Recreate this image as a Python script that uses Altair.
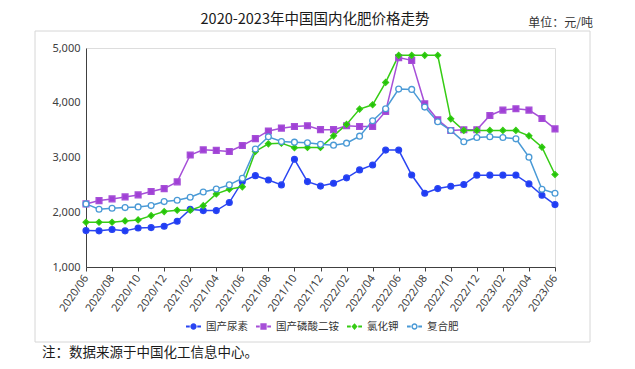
import altair as alt
import pandas as pd

months = ["2020/06","2020/07","2020/08","2020/09","2020/10","2020/11","2020/12",
          "2021/01","2021/02","2021/03","2021/04","2021/05","2021/06","2021/07",
          "2021/08","2021/09","2021/10","2021/11","2021/12","2022/01","2022/02",
          "2022/03","2022/04","2022/05","2022/06","2022/07","2022/08","2022/09",
          "2022/10","2022/11","2022/12","2023/01","2023/02","2023/03","2023/04",
          "2023/05","2023/06"]
tick_months = ["2020/06","2020/08","2020/10","2020/12","2021/02","2021/04","2021/06",
               "2021/08","2021/10","2021/12","2022/02","2022/04","2022/06","2022/08",
               "2022/10","2022/12","2023/02","2023/04","2023/06"]

series_names = ["国产尿素", "国产磷酸二铵", "氯化钾", "复合肥"]

urea = [1665,1660,1685,1660,1713,1720,1745,1835,2055,2030,2030,2177,2562,2668,2590,2500,
        2968,2560,2478,2530,2628,2773,2864,3135,3135,2680,2347,2432,2475,2506,2677,2677,
        2677,2677,2518,2311,2140]
dap = [2152,2213,2244,2280,2317,2378,2432,2555,3045,3140,3130,3110,3220,3345,3485,3536,
       3566,3580,3508,3508,3580,3566,3566,3841,4825,4774,3981,3689,3494,3506,3506,3768,
       3866,3890,3866,3713,3524]
potash = [1817,1817,1817,1841,1860,1939,2012,2037,2037,2120,2335,2420,2465,3110,3250,3262,
          3180,3183,3183,3395,3605,3884,3963,4372,4866,4866,4866,4866,3707,3494,3494,3494,
          3494,3494,3396,3189,2689]
compound = [2152,2055,2073,2085,2097,2122,2195,2219,2274,2370,2425,2500,2622,3155,3378,3293,
            3280,3270,3240,3225,3262,3390,3671,3890,4250,4244,3921,3652,3494,3287,3366,3378,
            3366,3341,3006,2421,2347]

colors = ["#2a45f2", "#a64fd8", "#36cc14", "#4a9ad6"]
point_fills = ["#1f3cf5", "#a040d6", "#22c20a", "#ffffff"]
point_shapes = ["circle", "square", "diamond", "circle"]
legend_shapes = [
    "M-1,-0.13H-0.5V0.13H-1Z M0.5,-0.13H1V0.13H0.5Z M0.42,0A0.42,0.42 0 1,1 -0.42,0A0.42,0.42 0 1,1 0.42,0Z",
    "M-1,-0.13H-0.5V0.13H-1Z M0.5,-0.13H1V0.13H0.5Z M-0.42,-0.42H0.42V0.42H-0.42Z",
    "M-1,-0.13H-0.5V0.13H-1Z M0.5,-0.13H1V0.13H0.5Z M0,-0.45L0.4,0L0,0.45L-0.4,0Z",
    "M-1,-0.13H-0.5V0.13H-1Z M0.5,-0.13H1V0.13H0.5Z M0.42,0A0.42,0.42 0 1,1 -0.42,0A0.42,0.42 0 1,1 0.42,0Z M0.22,0A0.22,0.22 0 1,0 -0.22,0A0.22,0.22 0 1,0 0.22,0Z",
]

rows = []
for name, vals in zip(series_names, [urea, dap, potash, compound]):
    for m, v in zip(months, vals):
        rows.append({"month": m, "series": name, "value": v})
df = pd.DataFrame(rows)

FONT = "Noto Sans CJK SC"
AXIS_COLOR = "#404040"

x_enc = alt.X("month:O", sort=months,
              scale=alt.Scale(type="point", padding=0, domain=months),
              axis=alt.Axis(values=tick_months, labelAngle=-55, labelAlign="right",
                            labelBaseline="middle", labelFontSize=11, labelFont="Noto Sans",
                            labelColor=AXIS_COLOR, domainColor=AXIS_COLOR, tickColor=AXIS_COLOR,
                            tickSize=4, labelPadding=5, grid=False, title=None))
y_enc = alt.Y("value:Q",
              scale=alt.Scale(domain=[1000, 5000], nice=False, zero=False),
              axis=alt.Axis(values=[1000, 2000, 3000, 4000, 5000], format=",.0f",
                            labelFontSize=11, labelFont="Noto Sans", labelColor=AXIS_COLOR,
                            domainColor=AXIS_COLOR, ticks=False, labelPadding=6,
                            grid=False, title=None))

color_scale = alt.Scale(domain=series_names, range=colors)

base = alt.Chart(df)

lines = base.mark_line(strokeWidth=1.5).encode(
    x=x_enc, y=y_enc,
    color=alt.Color("series:N", scale=color_scale, legend=None),
)

points = base.mark_point(filled=True, opacity=1, strokeWidth=1.3).encode(
    x=x_enc, y=y_enc,
    shape=alt.Shape("series:N", scale=alt.Scale(domain=series_names, range=point_shapes), legend=None),
    fill=alt.Fill("series:N", scale=alt.Scale(domain=series_names, range=point_fills), legend=None),
    stroke=alt.Stroke("series:N", scale=alt.Scale(domain=series_names, range=colors), legend=None),
    size=alt.value(34),
)

legend_kw = dict(orient="none", legendX=100, legendY=271, direction="horizontal", title=None,
                 labelFont=FONT, labelFontSize=10.5, labelColor="#333333",
                 symbolSize=225, symbolStrokeWidth=0, symbolOpacity=1,
                 labelOffset=5, columnPadding=8, padding=0)

legend_layer = base.transform_filter("datum.value < 0").mark_point(filled=True).encode(
    x=x_enc, y=y_enc,
    shape=alt.Shape("series:N", scale=alt.Scale(domain=series_names, range=legend_shapes),
                    legend=alt.Legend(**legend_kw)),
    fill=alt.Fill("series:N", scale=alt.Scale(domain=series_names, range=colors),
                  legend=alt.Legend(**legend_kw)),
)

one = pd.DataFrame({"t": [""]})
frame = alt.Chart(one).mark_rect(fillOpacity=0, stroke="#d6d6d6", strokeWidth=1).encode(
    x=alt.value(-51), x2=alt.value(504), y=alt.value(-17), y2=alt.value(294))

title_txt = alt.Chart(pd.DataFrame({"t": ["2020-2023年中国国内化肥价格走势"]})).mark_text(
    font=FONT, fontSize=14.5, color="#1a1a1a", align="center", baseline="middle").encode(
    x=alt.value(229), y=alt.value(-28), text="t:N")

unit_txt = alt.Chart(pd.DataFrame({"t": ["单位：元/吨"]})).mark_text(
    font=FONT, fontSize=12, color="#333333", align="right", baseline="middle").encode(
    x=alt.value(507), y=alt.value(-25), text="t:N")

note_txt = alt.Chart(pd.DataFrame({"t": ["注：数据来源于中国化工信息中心。"]})).mark_text(
    font=FONT, fontSize=13.5, color="#1a1a1a", align="left", baseline="middle").encode(
    x=alt.value(-44), y=alt.value(305), text="t:N")

chart = alt.layer(frame, lines, points, legend_layer, title_txt, unit_txt, note_txt).resolve_scale(
    shape="independent", fill="independent"
).properties(
    width=469, height=219,
    padding={"left": 78, "top": 40, "right": 72, "bottom": 94},
    autosize=alt.AutoSizeParams(type="none"),
).configure_view(stroke=None).configure(background="white")

chart.save("out.html", embed_options={"renderer": "svg", "actions": False})
